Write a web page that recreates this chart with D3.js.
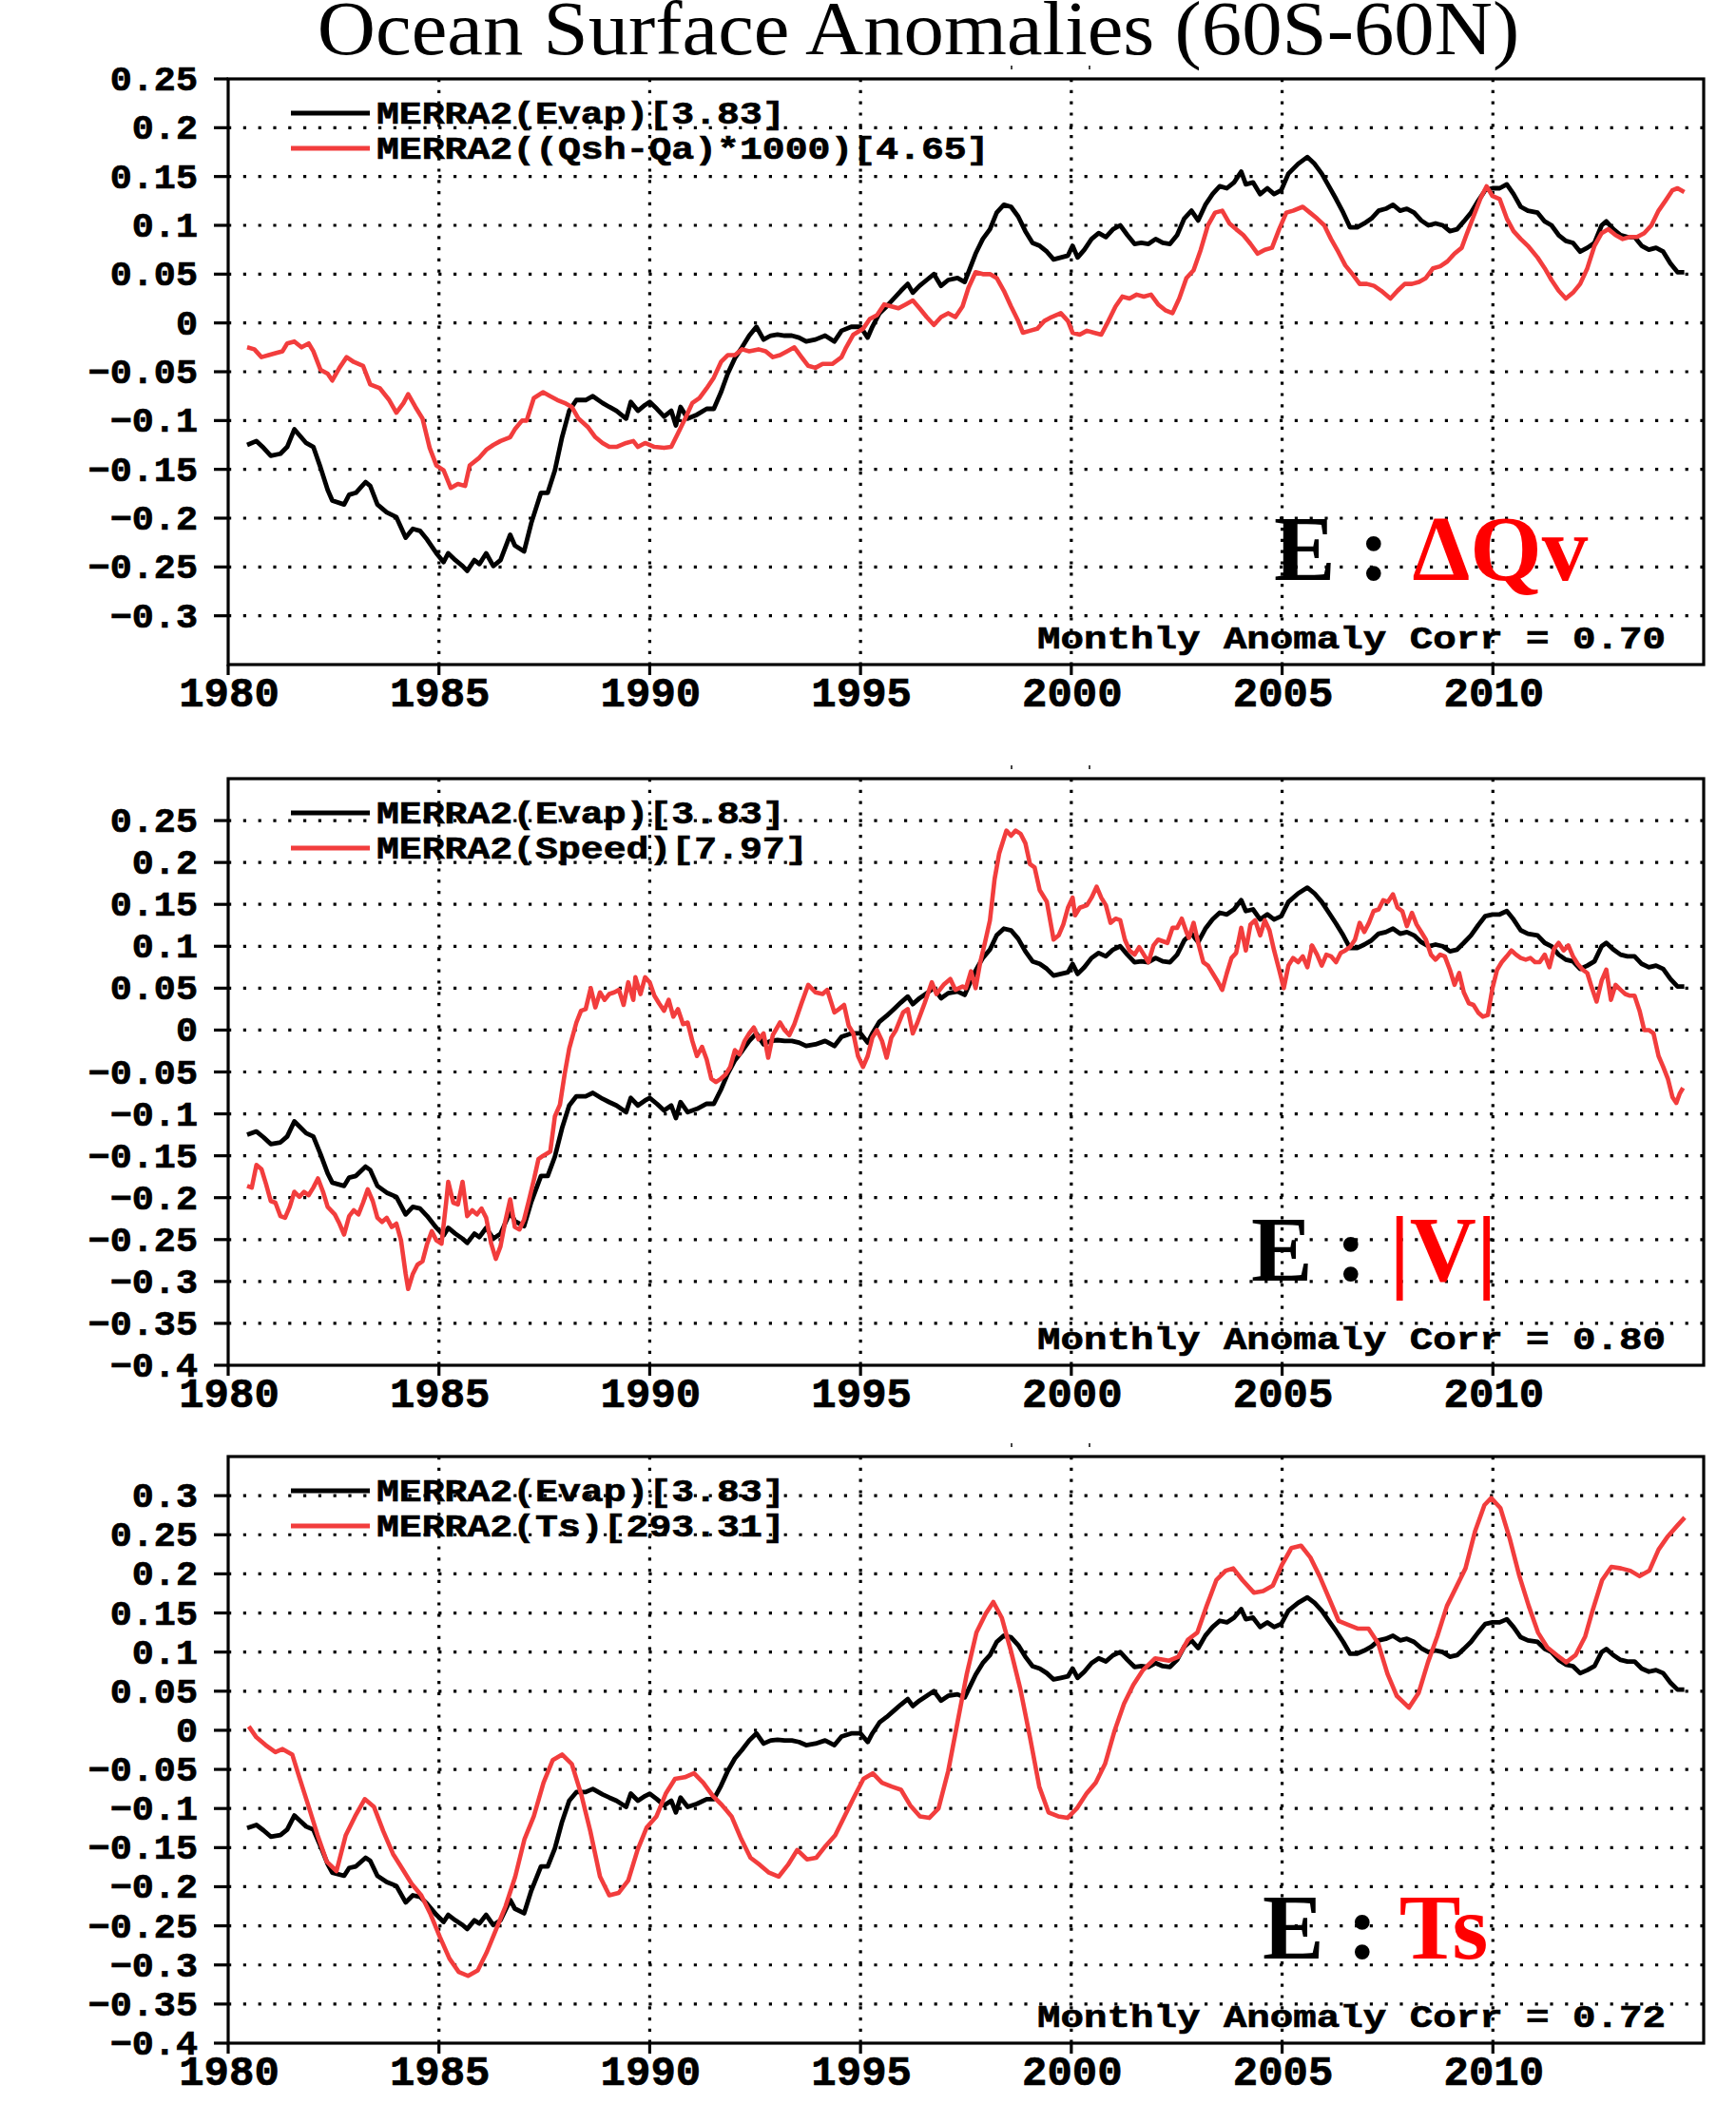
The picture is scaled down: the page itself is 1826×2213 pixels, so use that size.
<!DOCTYPE html>
<html>
<head>
<meta charset="utf-8">
<script src="https://cdn.jsdelivr.net/npm/d3@7"></script>
<style>
  body { margin: 0; background: #fff; }
</style>
</head>
<body>
<div id="chart"></div>
<script>
// ---- data (year, anomaly) ----
const EVAP = [[1980.45,-0.125],[1980.67,-0.121],[1980.84,-0.128],[1981.01,-0.136],[1981.24,-0.134],[1981.40,-0.127],[1981.57,-0.109],[1981.69,-0.115],[1981.85,-0.123],[1982.02,-0.127],[1982.19,-0.148],[1982.36,-0.171],[1982.47,-0.182],[1982.75,-0.186],[1982.87,-0.176],[1983.03,-0.174],[1983.26,-0.163],[1983.37,-0.167],[1983.54,-0.186],[1983.76,-0.194],[1983.99,-0.199],[1984.21,-0.220],[1984.38,-0.211],[1984.55,-0.213],[1984.72,-0.222],[1984.94,-0.236],[1985.11,-0.245],[1985.22,-0.236],[1985.39,-0.243],[1985.56,-0.249],[1985.67,-0.254],[1985.84,-0.243],[1985.96,-0.247],[1986.12,-0.236],[1986.29,-0.249],[1986.46,-0.243],[1986.69,-0.217],[1986.80,-0.228],[1987.02,-0.234],[1987.19,-0.205],[1987.42,-0.174],[1987.58,-0.174],[1987.75,-0.151],[1987.92,-0.117],[1988.09,-0.090],[1988.26,-0.079],[1988.48,-0.079],[1988.65,-0.075],[1988.88,-0.082],[1989.04,-0.086],[1989.21,-0.090],[1989.44,-0.098],[1989.55,-0.081],[1989.72,-0.090],[1989.89,-0.084],[1990.00,-0.081],[1990.17,-0.088],[1990.34,-0.096],[1990.51,-0.090],[1990.62,-0.105],[1990.73,-0.086],[1990.90,-0.098],[1991.12,-0.094],[1991.35,-0.088],[1991.52,-0.088],[1991.69,-0.071],[1991.85,-0.052],[1992.02,-0.036],[1992.19,-0.025],[1992.36,-0.013],[1992.53,-0.004],[1992.70,-0.017],[1992.87,-0.013],[1993.03,-0.012],[1993.20,-0.013],[1993.37,-0.013],[1993.54,-0.015],[1993.71,-0.019],[1993.93,-0.017],[1994.16,-0.013],[1994.38,-0.019],[1994.55,-0.008],[1994.78,-0.004],[1995.00,-0.004],[1995.17,-0.015],[1995.28,-0.004],[1995.45,0.010],[1995.62,0.017],[1995.79,0.025],[1995.96,0.033],[1996.12,0.040],[1996.24,0.031],[1996.40,0.038],[1996.57,0.044],[1996.74,0.050],[1996.91,0.038],[1997.08,0.044],[1997.30,0.046],[1997.47,0.042],[1997.56,0.052],[1997.73,0.071],[1997.90,0.086],[1998.07,0.096],[1998.23,0.113],[1998.40,0.121],[1998.57,0.119],[1998.74,0.109],[1998.91,0.094],[1999.08,0.082],[1999.25,0.079],[1999.42,0.073],[1999.58,0.065],[1999.75,0.067],[1999.92,0.069],[2000.03,0.079],[2000.15,0.067],[2000.31,0.075],[2000.48,0.086],[2000.65,0.092],[2000.82,0.088],[2000.99,0.096],[2001.16,0.100],[2001.33,0.090],[2001.50,0.081],[2001.66,0.082],[2001.83,0.081],[2002.00,0.086],[2002.17,0.082],[2002.34,0.081],[2002.51,0.090],[2002.68,0.107],[2002.85,0.115],[2003.01,0.105],[2003.18,0.121],[2003.35,0.132],[2003.52,0.140],[2003.69,0.138],[2003.86,0.144],[2004.03,0.155],[2004.14,0.142],[2004.31,0.144],[2004.48,0.132],[2004.65,0.138],[2004.81,0.132],[2004.98,0.136],[2005.15,0.153],[2005.38,0.163],[2005.60,0.170],[2005.77,0.163],[2005.94,0.153],[2006.11,0.140],[2006.28,0.127],[2006.45,0.113],[2006.61,0.098],[2006.78,0.098],[2006.95,0.102],[2007.12,0.107],[2007.29,0.115],[2007.46,0.117],[2007.63,0.121],[2007.80,0.115],[2007.96,0.117],[2008.13,0.113],[2008.30,0.105],[2008.47,0.100],[2008.64,0.102],[2008.81,0.100],[2008.98,0.094],[2009.15,0.096],[2009.31,0.104],[2009.48,0.113],[2009.65,0.125],[2009.82,0.136],[2009.99,0.138],[2010.16,0.138],[2010.33,0.142],[2010.49,0.132],[2010.66,0.119],[2010.83,0.115],[2011.06,0.113],[2011.23,0.104],[2011.39,0.100],[2011.56,0.090],[2011.73,0.084],[2011.90,0.082],[2012.07,0.073],[2012.24,0.077],[2012.41,0.082],[2012.58,0.100],[2012.69,0.104],[2012.86,0.096],[2013.03,0.090],[2013.19,0.088],[2013.36,0.088],[2013.53,0.079],[2013.70,0.075],[2013.87,0.077],[2014.04,0.073],[2014.21,0.061],[2014.38,0.052],[2014.54,0.052]];

const DQV = [[1980.45,-0.025],[1980.62,-0.027],[1980.79,-0.035],[1980.96,-0.033],[1981.12,-0.031],[1981.29,-0.029],[1981.40,-0.021],[1981.57,-0.019],[1981.74,-0.025],[1981.91,-0.021],[1982.02,-0.029],[1982.19,-0.048],[1982.36,-0.052],[1982.47,-0.059],[1982.64,-0.046],[1982.81,-0.035],[1982.98,-0.040],[1983.20,-0.044],[1983.37,-0.063],[1983.60,-0.067],[1983.82,-0.079],[1983.99,-0.092],[1984.16,-0.082],[1984.27,-0.073],[1984.44,-0.086],[1984.61,-0.098],[1984.78,-0.128],[1984.94,-0.146],[1985.11,-0.151],[1985.28,-0.169],[1985.45,-0.165],[1985.62,-0.167],[1985.73,-0.146],[1985.96,-0.138],[1986.12,-0.130],[1986.29,-0.125],[1986.46,-0.121],[1986.69,-0.117],[1986.80,-0.109],[1986.97,-0.100],[1987.08,-0.100],[1987.25,-0.077],[1987.47,-0.071],[1987.64,-0.075],[1987.81,-0.079],[1987.98,-0.082],[1988.15,-0.086],[1988.31,-0.098],[1988.54,-0.107],[1988.71,-0.117],[1988.88,-0.123],[1989.04,-0.127],[1989.21,-0.127],[1989.44,-0.123],[1989.61,-0.121],[1989.72,-0.127],[1989.89,-0.123],[1990.11,-0.127],[1990.34,-0.128],[1990.51,-0.127],[1990.67,-0.113],[1990.84,-0.098],[1991.01,-0.082],[1991.18,-0.077],[1991.35,-0.067],[1991.52,-0.056],[1991.69,-0.040],[1991.85,-0.033],[1992.02,-0.033],[1992.19,-0.027],[1992.36,-0.029],[1992.58,-0.027],[1992.75,-0.029],[1992.92,-0.035],[1993.09,-0.033],[1993.26,-0.029],[1993.43,-0.025],[1993.60,-0.035],[1993.76,-0.044],[1993.93,-0.046],[1994.10,-0.042],[1994.33,-0.042],[1994.55,-0.035],[1994.66,-0.025],[1994.83,-0.012],[1995.06,-0.006],[1995.22,0.004],[1995.39,0.008],[1995.56,0.019],[1995.73,0.017],[1995.90,0.015],[1996.07,0.019],[1996.24,0.023],[1996.40,0.015],[1996.57,0.006],[1996.74,-0.002],[1996.91,0.006],[1997.08,0.010],[1997.25,0.006],[1997.42,0.017],[1997.56,0.036],[1997.73,0.052],[1997.90,0.050],[1998.07,0.050],[1998.23,0.046],[1998.40,0.033],[1998.57,0.017],[1998.74,0.002],[1998.85,-0.010],[1999.02,-0.008],[1999.19,-0.006],[1999.36,0.002],[1999.53,0.006],[1999.75,0.010],[1999.92,0.002],[2000.03,-0.010],[2000.20,-0.012],[2000.37,-0.008],[2000.54,-0.010],[2000.71,-0.012],[2000.88,0.002],[2001.05,0.017],[2001.21,0.027],[2001.38,0.025],[2001.55,0.029],[2001.72,0.027],[2001.89,0.029],[2002.06,0.019],[2002.23,0.013],[2002.40,0.010],[2002.56,0.025],[2002.73,0.046],[2002.90,0.054],[2003.07,0.075],[2003.24,0.100],[2003.41,0.113],[2003.58,0.115],[2003.75,0.102],[2003.91,0.096],[2004.08,0.090],[2004.25,0.081],[2004.42,0.071],[2004.59,0.075],[2004.76,0.077],[2004.93,0.096],[2005.10,0.113],[2005.26,0.115],[2005.49,0.119],[2005.66,0.113],[2005.83,0.107],[2006.00,0.100],[2006.16,0.086],[2006.33,0.073],[2006.50,0.059],[2006.67,0.050],[2006.84,0.040],[2007.01,0.040],[2007.18,0.038],[2007.35,0.033],[2007.57,0.025],[2007.74,0.033],[2007.91,0.040],[2008.08,0.040],[2008.25,0.042],[2008.41,0.046],[2008.58,0.056],[2008.75,0.058],[2008.92,0.063],[2009.09,0.071],[2009.26,0.077],[2009.37,0.090],[2009.54,0.109],[2009.71,0.128],[2009.85,0.140],[2009.99,0.130],[2010.16,0.127],[2010.33,0.107],[2010.49,0.094],[2010.66,0.086],[2010.83,0.079],[2011.06,0.067],[2011.23,0.056],[2011.39,0.044],[2011.56,0.033],[2011.73,0.025],[2011.90,0.031],[2012.07,0.040],[2012.24,0.056],[2012.41,0.079],[2012.58,0.092],[2012.74,0.096],[2012.91,0.090],[2013.08,0.086],[2013.25,0.088],[2013.42,0.088],[2013.59,0.092],[2013.76,0.100],[2013.93,0.115],[2014.09,0.125],[2014.26,0.136],[2014.38,0.138],[2014.54,0.134]];

const SPEED = [[1980.45,-0.186],[1980.56,-0.188],[1980.67,-0.161],[1980.79,-0.166],[1980.90,-0.184],[1981.01,-0.204],[1981.12,-0.206],[1981.24,-0.222],[1981.35,-0.224],[1981.46,-0.211],[1981.57,-0.193],[1981.69,-0.199],[1981.80,-0.193],[1981.91,-0.197],[1982.02,-0.188],[1982.13,-0.177],[1982.25,-0.193],[1982.36,-0.211],[1982.53,-0.220],[1982.64,-0.231],[1982.75,-0.244],[1982.87,-0.222],[1982.98,-0.215],[1983.09,-0.220],[1983.20,-0.206],[1983.31,-0.190],[1983.43,-0.204],[1983.54,-0.224],[1983.65,-0.229],[1983.76,-0.224],[1983.88,-0.235],[1983.99,-0.231],[1984.10,-0.251],[1984.21,-0.291],[1984.27,-0.309],[1984.38,-0.291],[1984.49,-0.280],[1984.61,-0.276],[1984.72,-0.255],[1984.83,-0.240],[1984.94,-0.251],[1985.06,-0.255],[1985.17,-0.206],[1985.22,-0.181],[1985.34,-0.206],[1985.45,-0.208],[1985.56,-0.181],[1985.67,-0.222],[1985.79,-0.215],[1985.90,-0.220],[1986.01,-0.213],[1986.12,-0.224],[1986.24,-0.255],[1986.35,-0.273],[1986.46,-0.258],[1986.57,-0.229],[1986.69,-0.202],[1986.80,-0.235],[1986.91,-0.238],[1987.02,-0.226],[1987.13,-0.204],[1987.25,-0.179],[1987.36,-0.154],[1987.47,-0.150],[1987.64,-0.145],[1987.75,-0.103],[1987.87,-0.089],[1987.98,-0.053],[1988.09,-0.022],[1988.26,0.009],[1988.37,0.023],[1988.48,0.025],[1988.60,0.050],[1988.71,0.027],[1988.82,0.045],[1988.93,0.036],[1989.04,0.043],[1989.16,0.045],[1989.27,0.048],[1989.38,0.030],[1989.49,0.057],[1989.61,0.036],[1989.66,0.063],[1989.78,0.043],[1989.89,0.063],[1990.00,0.057],[1990.11,0.041],[1990.22,0.032],[1990.34,0.023],[1990.45,0.036],[1990.56,0.016],[1990.67,0.025],[1990.79,0.007],[1990.90,0.009],[1991.01,-0.013],[1991.12,-0.031],[1991.24,-0.020],[1991.35,-0.035],[1991.46,-0.058],[1991.57,-0.062],[1991.69,-0.058],[1991.80,-0.053],[1991.91,-0.044],[1992.02,-0.024],[1992.13,-0.029],[1992.25,-0.013],[1992.36,-0.004],[1992.47,0.003],[1992.58,-0.011],[1992.70,-0.004],[1992.81,-0.033],[1992.92,-0.006],[1993.09,0.009],[1993.20,0.000],[1993.31,-0.006],[1993.43,0.007],[1993.60,0.032],[1993.76,0.054],[1993.93,0.045],[1994.10,0.043],[1994.21,0.048],[1994.38,0.021],[1994.49,0.025],[1994.61,0.030],[1994.72,0.005],[1994.83,-0.004],[1994.94,-0.031],[1995.06,-0.044],[1995.17,-0.031],[1995.28,-0.009],[1995.39,0.000],[1995.51,-0.013],[1995.62,-0.033],[1995.73,-0.009],[1995.84,0.000],[1996.01,0.021],[1996.12,0.025],[1996.24,-0.004],[1996.35,0.009],[1996.52,0.032],[1996.69,0.057],[1996.80,0.043],[1996.97,0.054],[1997.13,0.061],[1997.25,0.048],[1997.42,0.052],[1997.50,0.050],[1997.62,0.070],[1997.73,0.050],[1997.84,0.081],[1997.95,0.104],[1998.07,0.131],[1998.18,0.180],[1998.29,0.211],[1998.46,0.238],[1998.57,0.232],[1998.68,0.238],[1998.80,0.234],[1998.91,0.223],[1999.02,0.198],[1999.13,0.194],[1999.25,0.167],[1999.42,0.153],[1999.58,0.108],[1999.70,0.113],[1999.81,0.126],[1999.92,0.146],[2000.03,0.158],[2000.09,0.137],[2000.20,0.146],[2000.37,0.149],[2000.48,0.158],[2000.60,0.171],[2000.71,0.158],[2000.82,0.149],[2000.93,0.128],[2001.05,0.133],[2001.16,0.131],[2001.27,0.108],[2001.38,0.095],[2001.50,0.090],[2001.61,0.099],[2001.72,0.090],[2001.83,0.081],[2001.95,0.101],[2002.06,0.108],[2002.17,0.106],[2002.28,0.104],[2002.40,0.122],[2002.51,0.122],[2002.62,0.133],[2002.73,0.117],[2002.79,0.110],[2002.90,0.128],[2003.01,0.104],[2003.13,0.081],[2003.24,0.077],[2003.35,0.068],[2003.46,0.059],[2003.58,0.048],[2003.69,0.068],[2003.80,0.086],[2003.91,0.092],[2004.03,0.122],[2004.14,0.095],[2004.25,0.126],[2004.36,0.131],[2004.48,0.113],[2004.59,0.131],[2004.70,0.119],[2004.81,0.095],[2004.93,0.072],[2005.04,0.050],[2005.15,0.077],[2005.26,0.086],[2005.38,0.081],[2005.49,0.088],[2005.60,0.075],[2005.71,0.101],[2005.83,0.090],[2005.94,0.077],[2006.05,0.090],[2006.16,0.088],[2006.28,0.081],[2006.39,0.092],[2006.50,0.095],[2006.61,0.099],[2006.73,0.108],[2006.84,0.128],[2006.95,0.117],[2007.06,0.128],[2007.17,0.142],[2007.29,0.144],[2007.40,0.155],[2007.51,0.153],[2007.63,0.162],[2007.74,0.146],[2007.85,0.142],[2007.96,0.124],[2008.08,0.140],[2008.19,0.126],[2008.30,0.117],[2008.41,0.108],[2008.53,0.090],[2008.64,0.084],[2008.75,0.090],[2008.86,0.088],[2008.98,0.072],[2009.09,0.054],[2009.20,0.068],[2009.31,0.045],[2009.43,0.032],[2009.54,0.030],[2009.65,0.021],[2009.76,0.016],[2009.88,0.018],[2009.99,0.050],[2010.10,0.072],[2010.21,0.081],[2010.33,0.088],[2010.44,0.095],[2010.55,0.090],[2010.66,0.086],[2010.78,0.084],[2010.89,0.086],[2011.00,0.081],[2011.11,0.081],[2011.23,0.090],[2011.34,0.075],[2011.45,0.097],[2011.56,0.104],[2011.68,0.095],[2011.79,0.101],[2011.90,0.088],[2012.01,0.079],[2012.13,0.072],[2012.24,0.068],[2012.35,0.050],[2012.46,0.034],[2012.58,0.059],[2012.69,0.072],[2012.80,0.036],[2012.91,0.054],[2013.03,0.048],[2013.14,0.043],[2013.25,0.041],[2013.36,0.041],[2013.48,0.023],[2013.59,0.000],[2013.70,0.000],[2013.81,-0.004],[2013.93,-0.031],[2014.04,-0.044],[2014.15,-0.058],[2014.26,-0.080],[2014.35,-0.087],[2014.43,-0.076],[2014.51,-0.069]];

const TS = [[1980.49,0.005],[1980.67,-0.009],[1980.89,-0.019],[1981.12,-0.028],[1981.29,-0.024],[1981.52,-0.031],[1981.67,-0.057],[1981.90,-0.096],[1982.12,-0.134],[1982.34,-0.168],[1982.57,-0.180],[1982.79,-0.134],[1983.01,-0.110],[1983.24,-0.088],[1983.46,-0.098],[1983.68,-0.129],[1983.91,-0.158],[1984.13,-0.177],[1984.35,-0.196],[1984.58,-0.211],[1984.80,-0.235],[1985.02,-0.264],[1985.25,-0.292],[1985.47,-0.309],[1985.69,-0.314],[1985.92,-0.307],[1986.14,-0.283],[1986.36,-0.254],[1986.58,-0.225],[1986.81,-0.187],[1987.03,-0.139],[1987.25,-0.110],[1987.48,-0.067],[1987.70,-0.038],[1987.92,-0.031],[1988.15,-0.043],[1988.37,-0.081],[1988.59,-0.129],[1988.82,-0.187],[1989.04,-0.211],[1989.26,-0.208],[1989.49,-0.192],[1989.71,-0.153],[1989.93,-0.124],[1990.16,-0.110],[1990.38,-0.081],[1990.60,-0.062],[1990.83,-0.060],[1991.05,-0.055],[1991.27,-0.067],[1991.50,-0.084],[1991.72,-0.096],[1991.94,-0.110],[1992.17,-0.139],[1992.39,-0.163],[1992.61,-0.172],[1992.83,-0.182],[1993.06,-0.187],[1993.28,-0.172],[1993.50,-0.153],[1993.73,-0.165],[1993.95,-0.163],[1994.17,-0.148],[1994.40,-0.134],[1994.62,-0.110],[1994.84,-0.086],[1995.07,-0.062],[1995.29,-0.055],[1995.51,-0.067],[1995.74,-0.072],[1995.96,-0.076],[1996.18,-0.096],[1996.41,-0.110],[1996.63,-0.112],[1996.85,-0.100],[1997.08,-0.052],[1997.30,0.010],[1997.52,0.072],[1997.75,0.125],[1997.97,0.149],[1998.15,0.164],[1998.35,0.144],[1998.57,0.101],[1998.79,0.053],[1999.02,-0.009],[1999.24,-0.072],[1999.46,-0.105],[1999.69,-0.110],[1999.91,-0.112],[2000.13,-0.100],[2000.36,-0.081],[2000.58,-0.067],[2000.80,-0.043],[2001.03,0.000],[2001.25,0.034],[2001.47,0.058],[2001.70,0.077],[2001.99,0.092],[2002.32,0.089],[2002.54,0.094],[2002.77,0.116],[2002.99,0.125],[2003.21,0.159],[2003.44,0.192],[2003.66,0.204],[2003.84,0.207],[2004.06,0.192],[2004.33,0.176],[2004.55,0.178],[2004.78,0.185],[2005.00,0.212],[2005.22,0.233],[2005.45,0.236],[2005.67,0.221],[2005.89,0.197],[2006.12,0.168],[2006.34,0.140],[2006.56,0.135],[2006.79,0.130],[2007.05,0.130],[2007.28,0.111],[2007.50,0.072],[2007.72,0.044],[2008.01,0.029],[2008.24,0.048],[2008.46,0.087],[2008.68,0.120],[2008.91,0.159],[2009.13,0.183],[2009.35,0.207],[2009.58,0.255],[2009.80,0.288],[2009.96,0.297],[2010.18,0.284],[2010.40,0.245],[2010.63,0.197],[2010.85,0.159],[2011.07,0.125],[2011.29,0.106],[2011.52,0.096],[2011.74,0.087],[2011.96,0.096],[2012.19,0.120],[2012.37,0.154],[2012.59,0.192],[2012.81,0.209],[2013.04,0.207],[2013.26,0.204],[2013.48,0.197],[2013.71,0.204],[2013.93,0.231],[2014.15,0.248],[2014.38,0.262],[2014.55,0.272]];

// ---- axes / labels ----
const yearTicks = [1980, 1985, 1990, 1995, 2000, 2005, 2010];
const yTicks1 = [-0.3, -0.25, -0.2, -0.15, -0.1, -0.05, 0, 0.05, 0.1, 0.15, 0.2, 0.25];
const yTicks2 = [-0.4, -0.35, -0.3, -0.25, -0.2, -0.15, -0.1, -0.05, 0, 0.05, 0.1, 0.15, 0.2, 0.25];
const yTicks3 = [-0.4, -0.35, -0.3, -0.25, -0.2, -0.15, -0.1, -0.05, 0, 0.05, 0.1, 0.15, 0.2, 0.25, 0.3];
const redNames = ["MERRA2((Qsh-Qa)*1000)[4.65]", "MERRA2(Speed)[7.97]", "MERRA2(Ts)[293.31]"];
const tagNames = ["\u0394Qv", "|V|", "Ts"];
const corrValues = ["0.70", "0.80", "0.72"];
const evapName = "MERRA2(Evap)[3.83]";

const W = 1826, H = 2213;
const BLACK = "#000", RED = "#f23d3d";
const GRADS_FONT = "'Liberation Mono', 'Courier New', monospace";
const SERIF = "'Liberation Serif', 'Times New Roman', serif";

const panels = [
    { top: 83,   bottom: 699,  domain: [-0.35, 0.25], ticks: yTicks1, red: DQV },
    { top: 819,  bottom: 1436, domain: [-0.4, 0.3],   ticks: yTicks2, red: SPEED },
    { top: 1532, bottom: 2149, domain: [-0.4, 0.35],  ticks: yTicks3, red: TS }
];

const svg = d3.select("#chart")
    .append("svg")
    .attr("width", W)
    .attr("height", H)
    .style("background", "#fff");

const x = d3.scaleLinear().domain([1980, 2015]).range([240, 1792]);

// text squeezed/stretched horizontally like the original bitmap
function gradsText(parent, px, py, str, size, sx, anchor, color) {
    return parent.append("text")
        .attr("transform", `translate(${px},${py}) scale(${sx},1)`)
        .attr("text-anchor", anchor)
        .attr("font-family", GRADS_FONT)
        .attr("font-weight", "bold")
        .attr("font-size", size)
        .attr("fill", color || BLACK)
        .attr("stroke", color || BLACK)
        .attr("stroke-width", 0.7)
        .text(str);
}

// Title, sitting right against the top edge as in the original
svg.append("text")
    .attr("transform", "translate(966,57) scale(1.06,1)")
    .attr("text-anchor", "middle")
    .attr("font-family", SERIF)
    .attr("font-size", 80)
    .attr("fill", BLACK)
    .text("Ocean Surface Anomalies (60S-60N)");

const fmt = (v) => (v < 0 ? "\u2212" : "") + String(Math.abs(v));

panels.forEach((p, i) => {
    const y = d3.scaleLinear().domain(p.domain).range([p.bottom, p.top]);
    const g = svg.append("g").attr("class", "panel");
    const [x0, x1] = x.range();

    // leftover specks above the frame
    g.selectAll(".speck")
        .data([1064, 1146])
        .join("line")
        .attr("x1", (d) => d).attr("x2", (d) => d)
        .attr("y1", p.top - 14).attr("y2", p.top - 10)
        .attr("stroke", "#444").attr("stroke-width", 2);

    // dotted grid
    g.selectAll(".hgrid")
        .data(p.ticks.filter((t) => y(t) > p.top + 2 && y(t) < p.bottom - 2))
        .join("line")
        .attr("x1", x0).attr("x2", x1)
        .attr("y1", (d) => y(d)).attr("y2", (d) => y(d))
        .attr("stroke", BLACK)
        .attr("stroke-width", 3.2)
        .attr("stroke-dasharray", "3.2 12.6");

    g.selectAll(".vgrid")
        .data(yearTicks.filter((t) => t > 1980))
        .join("line")
        .attr("x1", (d) => x(d)).attr("x2", (d) => x(d))
        .attr("y1", p.top).attr("y2", p.bottom)
        .attr("stroke", BLACK)
        .attr("stroke-width", 3.2)
        .attr("stroke-dasharray", "3.2 8.6");

    // series
    const line = d3.line().x((d) => x(d[0])).y((d) => y(d[1]));
    g.append("path").datum(EVAP)
        .attr("d", line)
        .attr("fill", "none").attr("stroke", BLACK)
        .attr("stroke-width", 4.8).attr("stroke-linejoin", "round");
    g.append("path").datum(p.red)
        .attr("d", line)
        .attr("fill", "none").attr("stroke", RED)
        .attr("stroke-width", 4.6).attr("stroke-linejoin", "round");

    // frame
    g.append("rect")
        .attr("x", x0).attr("y", p.top)
        .attr("width", x1 - x0).attr("height", p.bottom - p.top)
        .attr("fill", "none").attr("stroke", BLACK).attr("stroke-width", 3.2);

    // y ticks + labels
    g.selectAll(".ytick")
        .data(p.ticks)
        .join("line")
        .attr("x1", x0 - 15).attr("x2", x0)
        .attr("y1", (d) => y(d)).attr("y2", (d) => y(d))
        .attr("stroke", BLACK).attr("stroke-width", 3.2);
    p.ticks.forEach((t) => gradsText(g, 208, y(t) + 12, fmt(t), 37, 1.04, "end"));

    // x ticks + labels
    g.selectAll(".xtick")
        .data(yearTicks)
        .join("line")
        .attr("x1", (d) => x(d)).attr("x2", (d) => x(d))
        .attr("y1", p.bottom).attr("y2", p.bottom + 11)
        .attr("stroke", BLACK).attr("stroke-width", 3.2);
    yearTicks.forEach((t) => gradsText(g, x(t) + 1, p.bottom + 44, String(t), 44, 1.0, "middle"));

    // legend
    const legend = [[evapName, BLACK], [redNames[i], RED]];
    legend.forEach(([name, color], k) => {
        const ly = p.top + 36 + k * 37;
        g.append("line")
            .attr("x1", 306).attr("x2", 389)
            .attr("y1", ly).attr("y2", ly)
            .attr("stroke", color).attr("stroke-width", 5);
        gradsText(g, 396, ly + 11, name, 34, 1.17, "start");
    });

    // correlation note
    gradsText(g, 1752, p.bottom - 17, "Monthly Anomaly Corr = " + corrValues[i], 34, 1.2, "end");

    // big tag "E : ..."
    const tag = g.append("text")
        .attr("x", 1340 - (i === 1 ? 24 : i === 2 ? 12 : 0))
        .attr("y", p.bottom - 89)
        .attr("font-family", SERIF)
        .attr("font-weight", "bold")
        .attr("font-size", 97)
        .attr("fill", BLACK)
        .style("white-space", "pre");
    tag.append("tspan").text("E : ");
    tag.append("tspan").attr("fill", "#ff0000").text(tagNames[i]);
});
</script>
</body>
</html>
